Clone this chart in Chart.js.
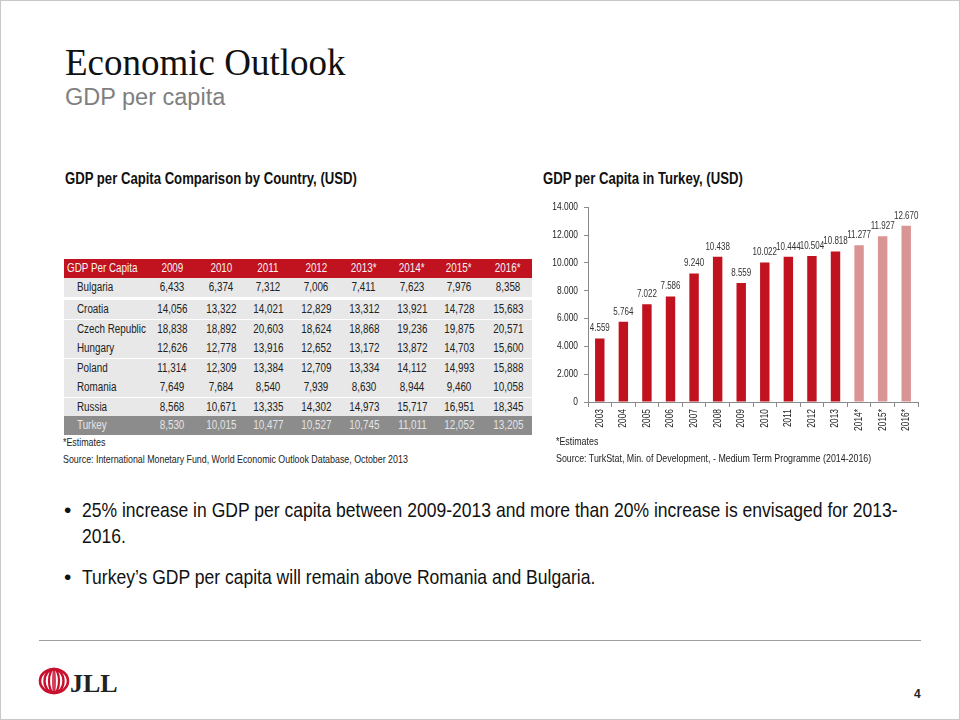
<!DOCTYPE html>
<html>
<head>
<meta charset="utf-8">
<script src="https://cdn.jsdelivr.net/npm/chart.js@4"></script>
<style>
  html, body { margin: 0; padding: 0; background: #fff; }
  body { width: 960px; height: 720px; position: relative; overflow: hidden;
         font-family: 'Liberation Sans', Arial, sans-serif; color: #222; }
  .frame { position: absolute; left: 0; top: 0; width: 958px; height: 718px; border: 1px solid #c8c8c8; }
  .abs { position: absolute; white-space: nowrap; }
  /* no narrow face installed, so squeeze Liberation Sans to look like Arial Narrow */
  .n { display: inline-block; transform: scaleX(0.82); transform-origin: left center; }
  #title { left: 65px; top: 41px; font-family: 'Liberation Serif', 'Times New Roman', serif; font-size: 37px; color: #111; }
  #subtitle { left: 65px; top: 84px; font-size: 23.5px; color: #7f7f7f; }
  .sect { font-weight: bold; font-size: 16px; color: #111; }
  .note { font-size: 10.8px; color: #222; }
  .cell { position: absolute; height: 19px; line-height: 19px; font-size: 12px; text-align: center; width: 60px; }
  .cell .n { transform-origin: center center; }
  .cell.left .n { transform-origin: left center; }
  .rowbg { position: absolute; left: 64px; width: 468px; }
  .bullet { font-size: 21px; color: #111; }
  .bullet .n { transform: scaleX(0.835); }
  #chartBox { position: absolute; left: 540px; top: 195px; width: 390px; height: 245px; }
  #footLine { position: absolute; left: 39px; top: 640px; width: 882px; height: 1px; background: #a0a0a0; }
</style>
</head>
<body>
<div class="frame"></div>
<div id="title" class="abs">Economic Outlook</div>
<div id="subtitle" class="abs">GDP per capita</div>
<div class="abs sect" style="left:65px; top:170px;"><span class="n">GDP per Capita Comparison by Country, (USD)</span></div>
<div class="abs sect" style="left:543px; top:170px;"><span class="n">GDP per Capita in Turkey, (USD)</span></div>

<div id="table"></div>
<div class="abs note" style="left:63px; top:436px;"><span class="n">*Estimates</span></div>
<div class="abs note" style="left:63px; top:453px;"><span class="n">Source: International Monetary Fund, World Economic Outlook Database, October 2013</span></div>

<div id="chartBox"><canvas id="turkeyChart"></canvas></div>
<div class="abs note" style="left:556px; top:435px;"><span class="n">*Estimates</span></div>
<div class="abs note" style="left:556px; top:452px;"><span class="n">Source: TurkStat, Min. of Development, - Medium Term Programme (2014-2016)</span></div>

<div class="abs bullet" style="left:64px; top:498px;">•</div>
<div class="abs bullet" style="left:82px; top:498px;"><span class="n">25% increase in GDP per capita between 2009-2013 and more than 20% increase is envisaged for 2013-</span></div>
<div class="abs bullet" style="left:82px; top:524px;"><span class="n">2016.</span></div>
<div class="abs bullet" style="left:64px; top:565px;">•</div>
<div class="abs bullet" style="left:82px; top:565px;"><span class="n">Turkey’s GDP per capita will remain above Romania and Bulgaria.</span></div>

<div id="footLine"></div>
<svg class="abs" style="left:36px; top:664px;" width="90" height="36">
  <g fill="none" stroke="#c8102e">
    <ellipse cx="18" cy="17" rx="14" ry="12" stroke-width="2.6"/>
    <ellipse cx="18" cy="17" rx="9.5" ry="12" stroke-width="2.4"/>
    <ellipse cx="18" cy="17" rx="5" ry="12" stroke-width="2.2"/>
    <ellipse cx="18" cy="17" rx="1" ry="12" stroke-width="1.6"/>
  </g>
  <text x="34" y="28" font-family="Liberation Serif, serif" font-weight="bold" font-size="26" fill="#222">JLL</text>
</svg>
<div class="abs" style="left:914px; top:687px; font-size:12px; font-weight:bold; color:#222;">4</div>

<script>
// ---- chart data: GDP per capita in Turkey (USD) ----
const years = ['2003', '2004', '2005', '2006', '2007', '2008', '2009', '2010', '2011', '2012', '2013', '2014*', '2015*', '2016*'];
const turkeyGdp = [4559, 5764, 7022, 7586, 9240, 10438, 8559, 10022, 10444, 10504, 10818, 11277, 11927, 12670];
const yTicks = [0, 2000, 4000, 6000, 8000, 10000, 12000, 14000];

// ---- table data: GDP per capita comparison by country (USD) ----
const tableYears = ['2009', '2010', '2011', '2012', '2013*', '2014*', '2015*', '2016*'];
const countries = ['Bulgaria', 'Croatia', 'Czech Republic', 'Hungary', 'Poland', 'Romania', 'Russia', 'Turkey'];
const bulgaria = [6433, 6374, 7312, 7006, 7411, 7623, 7976, 8358];
const croatia = [14056, 13322, 14021, 12829, 13312, 13921, 14728, 15683];
const czechRepublic = [18838, 18892, 20603, 18624, 18868, 19236, 19875, 20571];
const hungary = [12626, 12778, 13916, 12652, 13172, 13872, 14703, 15600];
const poland = [11314, 12309, 13384, 12709, 13334, 14112, 14993, 15888];
const romania = [7649, 7684, 8540, 7939, 8630, 8944, 9460, 10058];
const russia = [8568, 10671, 13335, 14302, 14973, 15717, 16951, 18345];
const turkey = [8530, 10015, 10477, 10527, 10745, 11011, 12052, 13205];
const tableRows = [bulgaria, croatia, czechRepublic, hungary, poland, romania, russia, turkey];

const RED = '#c1121f';
const PINK = '#d99593';

// build the table
const colCenters = [172, 221, 268, 316, 364, 412, 459, 508];
const rowTops = [278, 300, 319.5, 339, 358.5, 378, 397.5, 416];
const table = document.getElementById('table');
const addCell = (txt, x, y, color, left) => {
  const d = document.createElement('div');
  d.className = left ? 'cell left' : 'cell';
  d.innerHTML = '<span class="n"></span>';
  d.firstChild.textContent = txt;
  d.style.top = y + 'px';
  d.style.color = color;
  if (left) { d.style.left = x + 'px'; d.style.textAlign = 'left'; d.style.width = '120px'; }
  else d.style.left = (x - 30) + 'px';
  table.appendChild(d);
};
const addBg = (y, h, color) => {
  const d = document.createElement('div');
  d.className = 'rowbg';
  d.style.top = y + 'px';
  d.style.height = h + 'px';
  d.style.background = color;
  table.appendChild(d);
};
addBg(259, 19, RED);
addCell('GDP Per Capita', 67, 259, '#f4f4f4', true);
tableYears.forEach((yr, i) => addCell(yr, colCenters[i], 259, '#f4f4f4'));
countries.forEach((c, r) => {
  const isTurkey = c === 'Turkey';
  addBg(rowTops[r], 19, isTurkey ? '#8c8c8c' : '#e8e8e8');
  const col = isTurkey ? '#e4e4e4' : '#222';
  addCell(c, 77, rowTops[r], col, true);
  tableRows[r].forEach((v, i) => addCell(v.toLocaleString('en-US'), colCenters[i], rowTops[r], col));
});

// chart
const fmt = (v) => v.toLocaleString('de-DE');
const squeeze = 0.8;

// draws all canvas text horizontally squeezed, like the narrow font of the slide
const narrowText = {
  id: 'narrowText',
  beforeInit(chart) {
    const ctx = chart.ctx;
    const orig = ctx.fillText.bind(ctx);
    ctx.fillText = (text, x, y) => {
      ctx.save();
      ctx.translate(x, y);
      ctx.scale(squeeze, 1);
      orig(text, 0, 0);
      ctx.restore();
    };
  },
};

const valueLabels = {
  id: 'valueLabels',
  afterDatasetsDraw(chart) {
    const ctx = chart.ctx;
    const meta = chart.getDatasetMeta(0);
    ctx.save();
    ctx.font = '10px "Liberation Sans", Arial, sans-serif';
    ctx.fillStyle = '#333';
    ctx.textAlign = 'center';
    ctx.textBaseline = 'bottom';
    meta.data.forEach((bar, i) => {
      ctx.fillText(fmt(chart.data.datasets[0].data[i]), bar.x, bar.y - 5);
    });
    ctx.restore();
  },
};

new Chart(document.getElementById('turkeyChart').getContext('2d'), {
  type: 'bar',
  data: {
    labels: years,
    datasets: [{
      data: turkeyGdp,
      backgroundColor: years.map((y) => (y.includes('*') ? PINK : RED)),
      barPercentage: 0.8,
      categoryPercentage: 0.5,
    }],
  },
  options: {
    responsive: true,
    maintainAspectRatio: false,
    animation: false,
    layout: { padding: { top: 10, right: 12, left: 0, bottom: 0 } },
    plugins: { legend: { display: false }, tooltip: { enabled: false } },
    scales: {
      x: {
        grid: { display: true, drawOnChartArea: false, drawTicks: true, tickLength: 5, color: '#8a8a8a', offset: true },
        border: { color: '#8a8a8a' },
        ticks: { color: '#222', font: { family: 'Liberation Sans', size: 10.5 }, minRotation: 90, maxRotation: 90, padding: 2 },
        afterFit: (s) => { s.height = 38; },
      },
      y: {
        min: 0,
        max: 14000,
        afterBuildTicks: (s) => { s.ticks = yTicks.map((v) => ({ value: v })); },
        grid: { display: true, drawOnChartArea: false, drawTicks: true, tickLength: 4, color: '#8a8a8a' },
        border: { color: '#8a8a8a' },
        ticks: { color: '#222', font: { family: 'Liberation Sans', size: 10.5 }, padding: 6, callback: (v) => fmt(v) },
        afterFit: (s) => { s.width = 48; },
      },
    },
  },
  plugins: [narrowText, valueLabels],
});
</script>
</body>
</html>
